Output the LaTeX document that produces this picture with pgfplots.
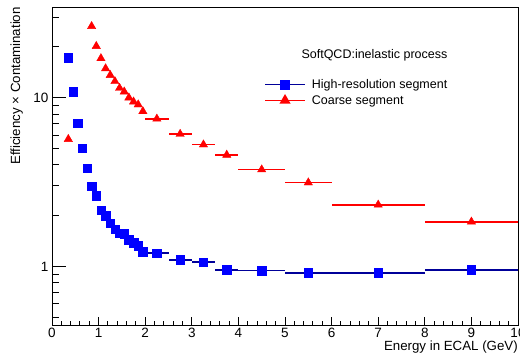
\documentclass[border=0pt]{standalone}
\usepackage{pgfplots}
\pgfplotsset{compat=1.18}
\usepackage{pgfplotstable}
\usepackage{fontspec}
\setmainfont{Liberation Sans}
\definecolor{hrline}{RGB}{0,0,153}
\definecolor{hrmark}{RGB}{0,0,255}
\definecolor{cline}{RGB}{255,0,0}
\pgfplotstableread{
x y ex
0.35 17.3 0.05
0.45 10.85 0.05
0.55 7.05 0.05
0.65 5.03 0.05
0.75 3.82 0.05
0.85 3.00 0.05
0.95 2.62 0.05
1.05 2.15 0.05
1.15 2.00 0.05
1.25 1.81 0.05
1.35 1.66 0.05
1.45 1.58 0.05
1.55 1.56 0.05
1.65 1.44 0.05
1.75 1.38 0.05
1.85 1.33 0.05
1.95 1.22 0.05
2.25 1.20 0.25
2.75 1.095 0.25
3.25 1.06 0.25
3.75 0.956 0.25
4.5 0.945 0.5
5.5 0.917 0.5
7 0.917 1
9 0.956 1
}\hrdata
\pgfplotstableread{
x y ex
0.35 5.68 0.05
0.85 26.5 0.05
0.95 20.2 0.05
1.05 17.1 0.05
1.15 14.9 0.05
1.25 13.6 0.05
1.35 12.5 0.05
1.45 11.4 0.05
1.55 10.85 0.05
1.65 10.0 0.05
1.75 9.47 0.05
1.85 9.1 0.05
1.95 8.3 0.05
2.25 7.5 0.25
2.75 6.09 0.25
3.25 5.27 0.25
3.75 4.58 0.25
4.5 3.75 0.5
5.5 3.14 0.5
7 2.32 1
9 1.84 1
}\cdata
\begin{document}
\begin{tikzpicture}
\begin{axis}[
  scale only axis, width=466bp, height=317bp,
  xmin=0, xmax=10, ymode=log, ymin=0.45, ymax=34,
  xtick={0,1,...,10}, minor x tick num=4,
  ytick={1,10}, yticklabels={1,10},
  minor ytick={0.5,0.6,0.7,0.8,0.9,2,3,4,5,6,7,8,9,20,30},
  xtick pos=bottom, ytick pos=left, tick align=inside,
  xtick style={/pgfplots/major tick length=8bp,/pgfplots/minor tick length=4.3bp,line width=1bp,black},
  ytick style={/pgfplots/major tick length=14bp,/pgfplots/minor tick length=7bp,line width=1bp,black},
  axis line style={line width=1bp},
  /pgf/number format/assume math mode=true,
  tick label style={font=\fontsize{13.5bp}{15bp}\selectfont},
  xlabel={Energy in ECAL (GeV)},
  ylabel={Efficiency × Contamination},
  xlabel style={font=\fontsize{13.3bp}{15bp}\selectfont, at={(rel axis cs:1,0)}, anchor=north east, yshift=-16bp, inner sep=0pt},
  ylabel style={font=\fontsize{13.3bp}{15bp}\selectfont, at={(rel axis cs:0,1)}, anchor=south east, yshift=29bp, xshift=1bp, inner sep=0pt},
  legend image code/.code={\draw[mark repeat=2,mark phase=2,#1] plot coordinates {(0bp,0bp) (20bp,0bp) (40bp,0bp)};},
  legend style={draw=none, fill=none, inner sep=0pt, at={(rel axis cs:0.455,0.779)}, anchor=north west,
    font=\fontsize{12.5bp}{14bp}\selectfont, column sep=5bp, row sep=3.5bp, nodes={inner sep=1bp}},
  legend cell align=left,
]
\addlegendimage{hrline, line width=1.6bp, mark=square*, mark size=4.2bp, mark options={solid, draw=hrmark, fill=hrmark}}
\addlegendentry{High-resolution segment}
\addlegendimage{cline, line width=1.6bp, mark=triangle*, mark size=4.8bp, mark options={solid, draw=cline, fill=cline}}
\addlegendentry{Coarse segment}
\addplot[forget plot, only marks, mark=square*, mark size=4.2bp, mark options={draw=hrmark, fill=hrmark},
  error bars/.cd, x dir=both, x explicit, error mark=none, error bar style={line width=1.6bp, hrline}]
  table[x=x, y=y, x error=ex]{\hrdata};
\addplot[forget plot, only marks, mark=triangle*, mark size=4.8bp, mark options={draw=cline, fill=cline},
  error bars/.cd, x dir=both, x explicit, error mark=none, error bar style={line width=1.6bp, cline}]
  table[x=x, y=y, x error=ex]{\cdata};
\node[font=\fontsize{12.5bp}{14bp}\selectfont, anchor=base, inner sep=0pt] at (rel axis cs:0.692,0.841) {SoftQCD:inelastic process};
\end{axis}
\pgfresetboundingbox
\path (current axis.south west) ++(-52bp,-33bp) rectangle ++(520bp,358bp);
\end{tikzpicture}
\end{document}
